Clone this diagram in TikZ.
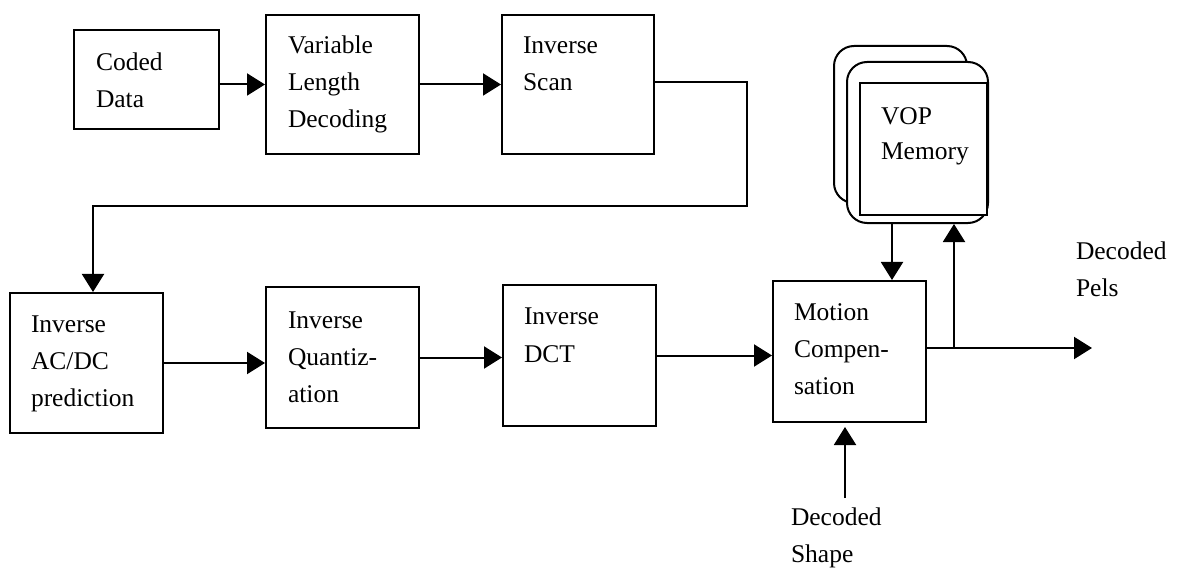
\documentclass[tikz,border=0pt]{standalone}
\usepackage{fontspec}
\setmainfont{Liberation Serif}
\usetikzlibrary{arrows.meta}
\begin{document}
\begin{tikzpicture}[x=1bp,y=-1bp,
  line width=2bp,
  blk/.style={draw, fill=white, inner sep=0pt, line width=2bp},
  lbl/.style={inner sep=0pt, align=left, anchor=base west,
    font=\fontsize{25.5bp}{37bp}\selectfont},
  arr/.style={-{Triangle[length=18bp,width=22bp]}, line width=2bp}]
  \useasboundingbox (0,0) rectangle (1180,568);

  % processing blocks
  \node[blk, minimum width=145bp, minimum height=99bp]  (cd)   at (146.5,79.5) {};
  \node[blk, minimum width=153bp, minimum height=139bp] (vld)  at (342.5,84.5) {};
  \node[blk, minimum width=152bp, minimum height=139bp] (isc)  at (578,84.5) {};
  \node[blk, minimum width=153bp, minimum height=140bp] (acdc) at (86.5,363) {};
  \node[blk, minimum width=153bp, minimum height=141bp] (iq)   at (342.5,357.5) {};
  \node[blk, minimum width=153bp, minimum height=141bp] (idct) at (579.5,355.5) {};
  \node[blk, minimum width=153bp, minimum height=141bp] (mc)   at (849.5,351.5) {};

  % stacked frame memories
  \node[blk, rounded corners=20bp, minimum width=133bp, minimum height=157bp] (vopb) at (900.5,124.5) {};
  \node[blk, rounded corners=20bp, minimum width=141bp, minimum height=161bp] (vopf) at (917.5,142.5) {};
  \node[blk, minimum width=127bp, minimum height=132bp] (vop) at (923.5,149) {};

  % block captions (placed by the baseline of their last line)
  \node[lbl] (tcd)   at (95,108)  {Coded\\Data};
  \node[lbl] (tvld)  at (287,128) {Variable\\Length\\Decoding};
  \node[lbl] (tisc)  at (522,91)  {Inverse\\Scan};
  \node[lbl] (tacdc) at (30,406)  {Inverse\\AC/DC\\prediction};
  \node[lbl] (tiq)   at (287,402) {Inverse\\Quantiz-\\ation};
  \node[lbl] (tidct) at (523,362) {Inverse\\DCT};
  \node[lbl] (tmc)   at (793,394) {Motion\\Compen-\\sation};
  \node[lbl, font=\fontsize{25.5bp}{35bp}\selectfont] (tvop) at (880,160) {VOP\\Memory};
  \node[lbl] (tpels)  at (1075,297) {Decoded\\Pels};
  \node[lbl] (tshape) at (790,562)  {Decoded\\Shape};

  % routing points
  \coordinate (turn)  at (747,206);
  \coordinate (tap)   at (954,348);
  \coordinate (pels)  at (1092,348);
  \coordinate (shp)   at (845,498);
  \coordinate (shptip) at (845,427);

  % data flow
  \draw[arr] (cd.east |- vld.west) -- (vld.west);
  \draw[arr] (vld.east) -- (isc.west);
  \draw[arr] ([yshift=2.5bp]isc.east) -| (turn) -| ([xshift=6.5bp]acdc.north);
  \draw[arr] (acdc.east) -- (acdc.east -| iq.west);
  \draw[arr] (iq.east) -- (iq.east -| idct.west);
  \draw[arr] (idct.east) -- (idct.east -| mc.west);
  \draw[arr] ([xshift=42.5bp]mc.north |- vopf.south) -- ([xshift=42.5bp]mc.north);
  \draw[arr] (mc.east |- tap) -- (pels);
  \draw[arr] (tap) -- (tap |- vopf.south);
  \draw[arr] (shp) -- (shptip);
\end{tikzpicture}
\end{document}
